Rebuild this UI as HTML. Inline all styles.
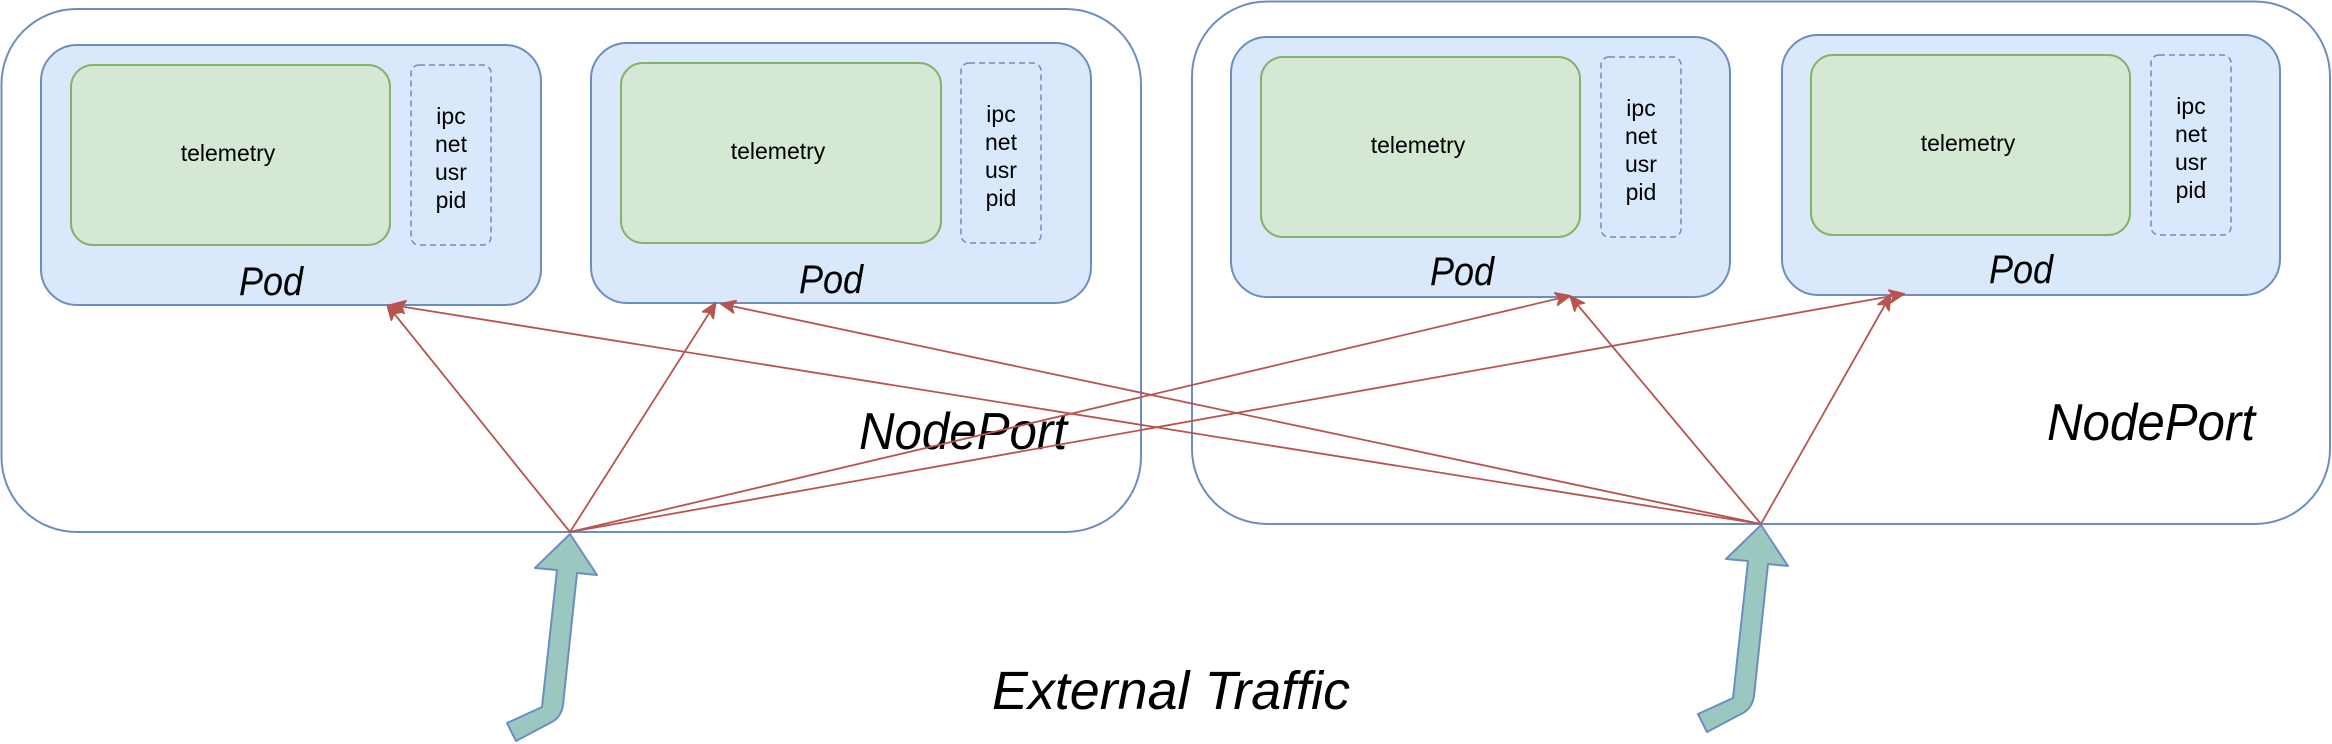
<!DOCTYPE html>
<html><head><meta charset="utf-8"><style>
html,body{margin:0;padding:0;background:#fff;}
svg{display:block;}
text{font-family:"Liberation Sans",sans-serif;}
.h{font-family:"Liberation Sans Narrow","Liberation Sans",sans-serif;font-style:italic;}
</style></head><body>
<svg width="2332" height="744" viewBox="0 0 2332 744" xmlns="http://www.w3.org/2000/svg">
<defs>
<marker id="a" markerWidth="16" markerHeight="14" refX="14" refY="7" orient="auto" markerUnits="userSpaceOnUse" viewBox="0 0 16 14">
<path d="M0,0 L16,7 L0,14 L4,7 Z" fill="#b85450" stroke="#b85450"/>
</marker>
</defs>
<rect x="1.5" y="9" width="1139.5" height="523" rx="75" fill="#fff" stroke="#6c8ebf" stroke-width="2"/>
<rect x="1192" y="1.5" width="1138" height="522.5" rx="75" fill="#fff" stroke="#6c8ebf" stroke-width="2"/>

<g stroke-width="2">
<rect x="41" y="45" width="500" height="260" rx="36" fill="#dae8fc" stroke="#6c8ebf"/>
<rect x="591" y="43" width="500" height="260" rx="36" fill="#dae8fc" stroke="#6c8ebf"/>
<rect x="1231" y="37" width="499" height="260" rx="36" fill="#dae8fc" stroke="#6c8ebf"/>
<rect x="1782" y="35" width="498" height="260" rx="36" fill="#dae8fc" stroke="#6c8ebf"/>

<rect x="71" y="65" width="319" height="180" rx="22" fill="#d5e8d4" stroke="#82b366"/>
<rect x="621" y="63" width="320" height="180" rx="22" fill="#d5e8d4" stroke="#82b366"/>
<rect x="1261" y="57" width="319" height="180" rx="22" fill="#d5e8d4" stroke="#82b366"/>
<rect x="1811" y="55" width="319" height="180" rx="22" fill="#d5e8d4" stroke="#82b366"/>

<g fill="none" stroke="#6c8ebf" stroke-dasharray="6,4" stroke-width="1.5">
<rect x="411" y="65" width="80" height="180" rx="8"/>
<rect x="961" y="63" width="80" height="180" rx="8"/>
<rect x="1601" y="57" width="80" height="180" rx="8"/>
<rect x="2151" y="55" width="80" height="180" rx="8"/>
</g>
</g>

<g font-size="23" text-anchor="middle" fill="#000">
<text x="228" y="161">telemetry</text>
<text x="778" y="159">telemetry</text>
<text x="1418" y="153">telemetry</text>
<text x="1968" y="151">telemetry</text>
<text x="451" y="124">ipc</text><text x="451" y="152">net</text><text x="451" y="180">usr</text><text x="451" y="208">pid</text>
<text x="1001" y="122">ipc</text><text x="1001" y="150">net</text><text x="1001" y="178">usr</text><text x="1001" y="206">pid</text>
<text x="1641" y="116">ipc</text><text x="1641" y="144">net</text><text x="1641" y="172">usr</text><text x="1641" y="200">pid</text>
<text x="2191" y="114">ipc</text><text x="2191" y="142">net</text><text x="2191" y="170">usr</text><text x="2191" y="198">pid</text>
</g>

<g class="h" font-size="40" text-anchor="middle" fill="#000">
<text class="h" x="271" y="295" textLength="64" lengthAdjust="spacingAndGlyphs">Pod</text>
<text class="h" x="831" y="293" textLength="64" lengthAdjust="spacingAndGlyphs">Pod</text>
<text class="h" x="1462" y="285" textLength="64" lengthAdjust="spacingAndGlyphs">Pod</text>
<text class="h" x="2021" y="283" textLength="64" lengthAdjust="spacingAndGlyphs">Pod</text>
</g>
<text class="h" x="859" y="449" font-size="52" textLength="208" lengthAdjust="spacingAndGlyphs">NodePort</text>
<text class="h" x="2047" y="440" font-size="52" textLength="208" lengthAdjust="spacingAndGlyphs">NodePort</text>
<text class="h" x="992" y="709" font-size="54" textLength="358" lengthAdjust="spacingAndGlyphs">External Traffic</text>

<g stroke="#b85450" stroke-width="1.8" fill="none" marker-end="url(#a)">
<line x1="570" y1="532" x2="388" y2="306"/>
<line x1="570" y1="532" x2="715" y2="304"/>
<line x1="570" y1="532" x2="1569" y2="296"/>
<line x1="570" y1="532" x2="1903" y2="294"/>
<line x1="1761" y1="524" x2="392" y2="305"/>
<line x1="1761" y1="524" x2="722" y2="304"/>
<line x1="1761" y1="524" x2="1571" y2="297"/>
<line x1="1761" y1="524" x2="1890" y2="296"/>
</g>

<g fill="#9ac7bf" stroke="#6c8ebf" stroke-width="2" stroke-linejoin="round">
<path d="M570,534 L597,575 L577,573 L563,705 Q561,718 550,723 L516,741 L507,723 L542,707 L557,570 L535,568 Z"/>
<path transform="translate(1191,-9)" d="M570,534 L597,575 L577,573 L563,705 Q561,718 550,723 L516,741 L507,723 L542,707 L557,570 L535,568 Z"/>
</g>
</svg>
</body></html>
